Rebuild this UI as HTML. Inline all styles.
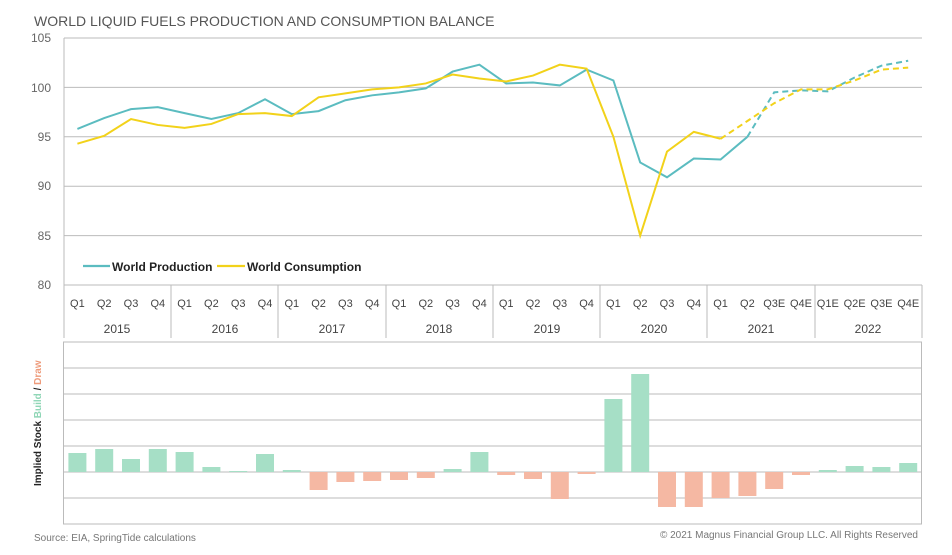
<!DOCTYPE html><html><head><style>body{margin:0;background:#fff;font-family:"Liberation Sans",sans-serif}</style></head><body>
<svg width="952" height="550" xmlns="http://www.w3.org/2000/svg" font-family="Liberation Sans Narrow, Liberation Sans, sans-serif">
<text x="34" y="26" font-size="14" fill="#555">WORLD LIQUID FUELS PRODUCTION AND CONSUMPTION BALANCE</text>
<g stroke="#bbb" stroke-width="1">
<line x1="64" y1="38" x2="922" y2="38"/><line x1="64" y1="87.4" x2="922" y2="87.4"/><line x1="64" y1="136.8" x2="922" y2="136.8"/><line x1="64" y1="186.2" x2="922" y2="186.2"/><line x1="64" y1="235.6" x2="922" y2="235.6"/><line x1="64" y1="285" x2="922" y2="285"/>
<line x1="64" y1="38" x2="64" y2="338"/>
<line x1="171" y1="285" x2="171" y2="338"/><line x1="278" y1="285" x2="278" y2="338"/><line x1="386" y1="285" x2="386" y2="338"/><line x1="493" y1="285" x2="493" y2="338"/><line x1="600" y1="285" x2="600" y2="338"/><line x1="707" y1="285" x2="707" y2="338"/><line x1="815" y1="285" x2="815" y2="338"/><line x1="922" y1="285" x2="922" y2="338"/>
</g>
<g font-size="12" fill="#666" text-anchor="end"><text x="51" y="42">105</text><text x="51" y="92">100</text><text x="51" y="141">95</text><text x="51" y="190">90</text><text x="51" y="240">85</text><text x="51" y="289">80</text></g>
<g font-size="11" fill="#444" text-anchor="middle" id="q"></g>
<g font-size="12" fill="#444" text-anchor="middle"><text x="117" y="333">2015</text><text x="225" y="333">2016</text><text x="332" y="333">2017</text><text x="439" y="333">2018</text><text x="547" y="333">2019</text><text x="654" y="333">2020</text><text x="761" y="333">2021</text><text x="868" y="333">2022</text></g>
<g id="lines"></g>
<line x1="83" y1="266" x2="110" y2="266" stroke="#5bbcc0" stroke-width="2.2"/><text x="112" y="271" font-size="12" font-weight="bold" fill="#222">World Production</text>
<line x1="217" y1="266" x2="245" y2="266" stroke="#f2d21a" stroke-width="2.2"/><text x="247" y="271" font-size="12" font-weight="bold" fill="#222">World Consumption</text>
<g stroke="#bbb" stroke-width="1"><rect x="63.5" y="342" width="858" height="182" fill="none"/>
<line x1="64" y1="368" x2="922" y2="368"/><line x1="64" y1="394" x2="922" y2="394"/><line x1="64" y1="420" x2="922" y2="420"/><line x1="64" y1="446" x2="922" y2="446"/><line x1="64" y1="472" x2="922" y2="472"/><line x1="64" y1="498" x2="922" y2="498"/></g>
<g id="bars"></g>
<text transform="translate(41,486) rotate(-90)" font-size="10" font-weight="bold" fill="#222">Implied Stock <tspan fill="#8fd6b6">Build</tspan> / <tspan fill="#ee9a7a">Draw</tspan></text>
<text x="34" y="541" font-size="10" fill="#777">Source: EIA, SpringTide calculations</text>
<text x="918" y="538" font-size="10" fill="#777" text-anchor="end">© 2021 Magnus Financial Group LLC. All Rights Reserved</text>
</svg>
<script>
const ns="http://www.w3.org/2000/svg",W=26.8,x0=64;
const cx=i=>x0+W*(i+0.5),y=v=>285-(v-80)*9.88;
const ql=["Q1","Q2","Q3","Q4"],q=document.getElementById("q");
for(let i=0;i<32;i++){let t=document.createElementNS(ns,"text");t.setAttribute("x",cx(i));t.setAttribute("y",307);t.textContent=ql[i%4]+(i>=26?"E":"");q.appendChild(t);}
const P=[95.8,96.9,97.8,98.0,97.4,96.8,97.4,98.8,97.3,97.6,98.7,99.2,99.5,99.9,101.6,102.3,100.4,100.5,100.2,101.8,100.7,92.4,90.9,92.8,92.7,95.0,99.5,99.7,99.6,101.0,102.2,102.7];
const C=[94.3,95.1,96.8,96.2,95.9,96.3,97.3,97.4,97.1,99.0,99.4,99.8,100.0,100.4,101.3,100.9,100.6,101.2,102.3,101.9,95,85,93.5,95.5,94.8,96.6,98.4,99.8,99.8,100.7,101.8,102.0];
const L=document.getElementById("lines");
function pl(d,a,b,col,dash){let p=document.createElementNS(ns,"polyline");p.setAttribute("points",d.slice(a,b+1).map((v,k)=>cx(a+k)+","+y(v)).join(" "));p.setAttribute("fill","none");p.setAttribute("stroke",col);p.setAttribute("stroke-width","2");if(dash)p.setAttribute("stroke-dasharray","6,4");L.appendChild(p);}
pl(P,0,25,"#5bbcc0");pl(P,25,31,"#5bbcc0",1);pl(C,0,24,"#f2d21a");pl(C,24,31,"#f2d21a",1);
const B=[19,23,13,23,20,5,1,18,2,-18,-10,-9,-8,-6,3,20,-3,-7,-27,-2,73,98,-35,-35,-26,-24,-17,-3,2,6,5,9];
const G=document.getElementById("bars");
B.forEach((h,i)=>{let r=document.createElementNS(ns,"rect");r.setAttribute("x",cx(i)-9);r.setAttribute("width",18);r.setAttribute("y",h>0?472-h:472);r.setAttribute("height",Math.abs(h));r.setAttribute("fill",h>0?"#a6dfc6":"#f5b8a3");G.appendChild(r);});
</script>
</body></html>
